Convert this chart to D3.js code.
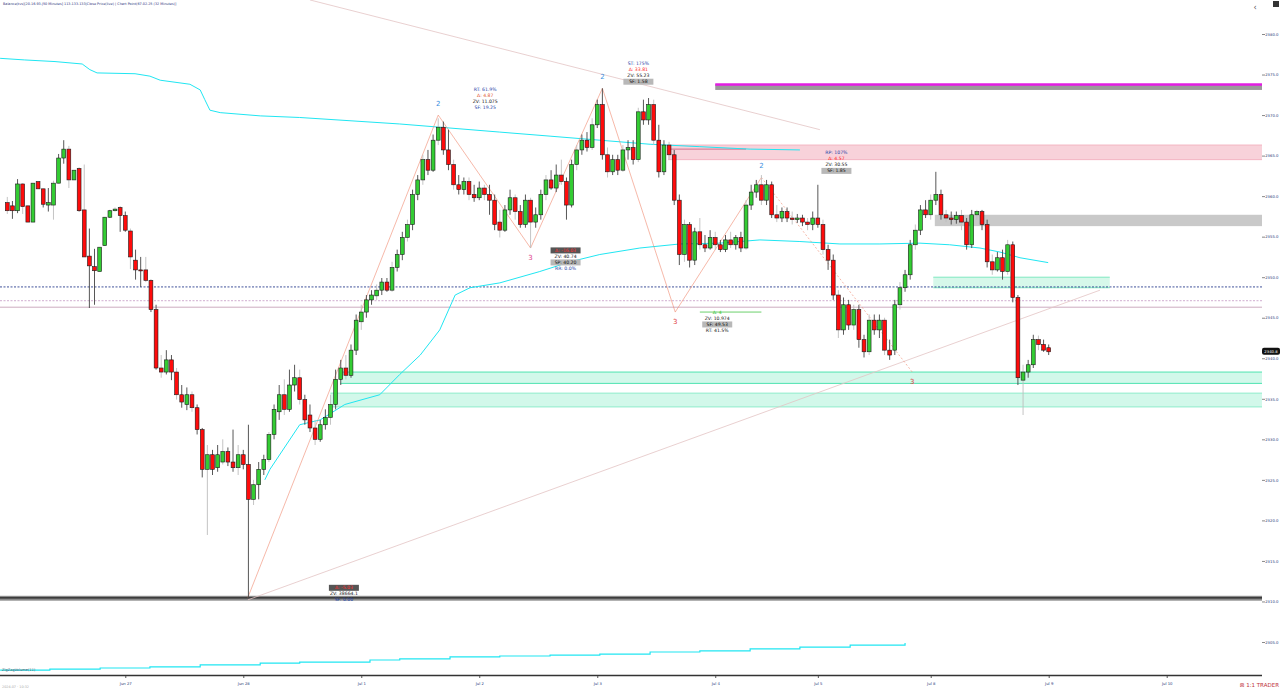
<!DOCTYPE html>
<html><head><meta charset="utf-8">
<script src="https://cdn.jsdelivr.net/npm/d3@7"></script>
<style>html,body{margin:0;padding:0;background:#fff;overflow:hidden}svg{display:block;font-family:"DejaVu Sans",sans-serif}</style>
</head><body><svg id="c" width="1280" height="689"></svg>
<script>
// ---------- DATA ----------
const open=[2359.2,2358.8,2358.2,2361.5,2358.8,2356.8,2361.8,2360.9,2358.9,2358.9,
2361.6,2364.7,2365.8,2362.0,2363.4,2358.3,2352.6,2351.3,2350.7,2353.9,
2357.4,2358.2,2358.6,2357.6,2355.7,2352.1,2350.9,2350.9,2349.6,2346.0,
2338.8,2338.3,2339.8,2338.3,2335.5,2334.3,2335.5,2333.9,2331.2,2326.3,
2328.1,2326.5,2327.2,2328.5,2327.2,2326.5,2328.1,2326.9,2322.6,2324.4,
2326.3,2327.5,2330.6,2333.4,2335.5,2333.7,2336.7,2337.6,2334.9,2333.0,
2331.4,2330.0,2331.8,2332.7,2334.3,2337.4,2338.8,2337.9,2341.0,2344.5,
2345.7,2347.2,2347.7,2348.4,2349.4,2348.4,2351.2,2352.8,2354.9,2356.5,
2360.2,2362.0,2364.5,2363.2,2366.9,2368.5,2365.7,2363.9,2361.4,2360.8,
2361.8,2360.2,2359.8,2361.0,2360.2,2359.5,2356.8,2355.8,2358.3,2359.8,
2358.1,2356.5,2359.5,2356.8,2357.7,2360.2,2362.0,2361.0,2362.6,2361.8,
2358.9,2363.9,2365.7,2366.9,2366.0,2368.8,2371.3,2365.1,2363.0,2364.5,
2363.2,2365.7,2366.0,2364.5,2370.4,2369.4,2371.3,2366.9,2363.0,2366.3,
2365.1,2359.5,2352.8,2356.5,2352.1,2355.6,2354.0,2353.6,2354.9,2354.0,
2353.4,2354.6,2354.0,2354.9,2353.6,2358.9,2360.5,2361.4,2359.5,2361.4,
2357.7,2357.3,2358.1,2357.3,2357.1,2357.3,2356.8,2356.5,2357.3,2356.5,
2353.4,2352.1,2347.8,2343.5,2346.6,2344.1,2346.0,2342.3,2340.8,2344.7,
2343.5,2344.7,2341.0,2341.0,2346.6,2348.7,2350.3,2354.0,2355.8,2358.3,
2357.7,2359.5,2360.2,2357.7,2357.3,2357.1,2357.6,2356.8,2354.0,2357.7,
2358.1,2356.5,2351.9,2350.9,2352.4,2350.7,2354.0,2347.5,2337.3,2338.3,
2339.2,2342.3,2341.7,2341.3];
const high=[2359.9,2359.4,2362.1,2361.6,2358.8,2361.6,2361.8,2360.9,2361.0,2361.9,
2365.2,2366.9,2366.2,2363.2,2363.5,2363.9,2356.0,2353.5,2353.7,2357.4,
2358.3,2358.6,2358.7,2358.1,2356.0,2353.4,2352.5,2352.5,2349.7,2346.6,
2340.4,2341.0,2340.4,2338.8,2336.7,2336.4,2335.9,2334.3,2331.4,2329.3,
2328.7,2329.3,2330.0,2329.0,2331.2,2329.3,2328.7,2331.8,2325.0,2327.2,
2328.1,2330.9,2334.3,2336.7,2337.4,2338.6,2339.2,2338.6,2335.5,2334.3,
2332.4,2332.4,2333.7,2335.5,2338.6,2339.8,2340.4,2341.7,2345.4,2346.6,
2347.8,2348.4,2349.1,2349.9,2349.9,2351.9,2353.4,2355.6,2357.1,2360.8,
2362.6,2365.1,2365.7,2367.6,2369.6,2369.2,2368.2,2364.5,2362.6,2362.3,
2362.3,2361.4,2361.8,2361.4,2361.4,2360.2,2358.3,2358.9,2360.8,2360.2,
2358.9,2360.2,2359.8,2358.6,2360.8,2362.6,2363.2,2363.9,2364.5,2362.3,
2364.5,2366.3,2367.6,2367.9,2369.6,2371.9,2373.3,2366.0,2365.1,2365.1,
2366.3,2366.9,2366.9,2370.9,2371.9,2372.1,2371.9,2368.8,2366.9,2366.7,
2365.7,2360.2,2357.1,2356.8,2356.1,2357.3,2355.2,2355.8,2355.6,2354.6,
2355.2,2355.6,2355.2,2355.6,2359.5,2361.4,2362.0,2362.6,2362.0,2361.8,
2358.9,2358.6,2358.6,2358.1,2357.8,2357.7,2357.3,2358.1,2361.4,2357.1,
2354.0,2352.8,2348.4,2347.5,2347.2,2346.6,2346.6,2342.9,2345.4,2345.4,
2345.4,2345.0,2342.3,2347.2,2349.4,2350.9,2354.6,2356.5,2358.9,2359.5,
2360.2,2363.0,2360.8,2358.3,2358.1,2358.1,2358.3,2357.3,2358.3,2358.3,
2358.3,2357.1,2352.8,2353.1,2353.4,2354.6,2354.4,2347.8,2339.2,2339.8,
2342.9,2342.8,2342.3,2341.7];
const low=[2357.8,2357.2,2357.9,2357.8,2356.8,2356.8,2360.9,2358.6,2358.1,2357.1,
2361.6,2364.0,2361.0,2362.0,2358.1,2352.5,2346.2,2346.6,2350.7,2353.9,
2357.3,2358.1,2355.6,2355.6,2351.0,2349.7,2348.8,2349.4,2345.7,2338.6,
2337.6,2338.0,2337.3,2334.9,2333.9,2333.6,2333.4,2330.6,2325.3,2318.2,
2325.6,2326.0,2326.9,2326.7,2326.0,2325.6,2326.3,2310.5,2321.9,2322.6,
2325.6,2327.2,2330.0,2332.4,2333.0,2333.4,2335.9,2334.3,2331.8,2330.9,
2329.3,2329.7,2331.2,2331.8,2333.7,2336.7,2337.4,2337.6,2340.4,2343.5,
2345.0,2346.6,2347.2,2347.8,2348.2,2348.2,2350.7,2352.1,2354.4,2355.8,
2359.5,2361.4,2362.6,2363.0,2366.3,2365.1,2363.2,2360.8,2360.2,2360.2,
2359.5,2359.3,2359.5,2359.5,2357.7,2355.8,2354.9,2355.6,2357.7,2357.1,
2356.1,2356.1,2353.6,2356.1,2357.1,2359.5,2360.8,2360.5,2361.4,2357.1,
2358.6,2363.2,2365.1,2365.5,2365.7,2368.4,2364.5,2362.3,2362.6,2362.6,
2363.0,2364.5,2363.9,2364.2,2368.8,2368.8,2366.3,2362.3,2362.6,2364.5,
2358.9,2351.5,2351.9,2351.2,2351.5,2353.4,2353.1,2353.4,2353.4,2353.1,
2353.1,2353.6,2353.4,2353.1,2353.4,2358.3,2359.8,2358.9,2358.9,2357.3,
2356.8,2356.8,2356.8,2356.5,2356.7,2356.3,2355.8,2355.8,2356.1,2352.8,
2350.9,2347.2,2342.5,2342.9,2343.5,2343.5,2341.3,2340.1,2340.4,2342.9,
2342.5,2340.4,2339.8,2340.4,2346.0,2348.2,2349.7,2353.4,2355.2,2357.3,
2357.1,2358.9,2357.1,2356.8,2356.5,2356.6,2355.8,2353.4,2353.6,2357.1,
2355.8,2351.2,2350.3,2350.7,2349.7,2350.3,2346.9,2336.7,2333.0,2337.6,
2338.8,2341.0,2340.8,2340.4];
const close=[2358.2,2358.2,2361.5,2358.7,2356.8,2361.6,2360.9,2359.0,2359.2,2361.6,
2364.7,2365.8,2362.0,2363.2,2358.2,2352.5,2351.4,2350.8,2353.7,2357.4,
2358.2,2358.4,2357.6,2355.8,2352.5,2350.9,2350.8,2349.6,2346.0,2338.8,
2338.3,2339.8,2338.3,2335.5,2334.6,2335.5,2333.9,2331.2,2326.3,2328.1,
2326.3,2328.1,2328.5,2327.2,2326.5,2328.1,2326.9,2322.6,2324.4,2326.3,
2327.5,2330.6,2333.7,2335.5,2333.7,2336.7,2337.6,2334.9,2332.4,2331.4,
2330.0,2331.8,2332.7,2334.3,2337.4,2338.8,2337.9,2341.0,2344.7,2345.7,
2347.2,2347.8,2348.4,2349.4,2348.4,2351.2,2352.8,2354.9,2356.5,2360.2,
2362.0,2364.5,2363.2,2366.9,2368.5,2365.7,2363.9,2361.4,2360.8,2361.8,
2360.2,2359.8,2361.0,2360.2,2359.5,2356.5,2355.8,2358.3,2359.8,2358.1,
2356.5,2359.5,2356.8,2357.7,2360.2,2362.0,2361.0,2362.6,2361.8,2358.9,
2363.9,2365.7,2366.9,2366.0,2368.8,2371.3,2365.1,2363.0,2364.5,2363.2,
2365.7,2366.0,2364.5,2370.4,2369.4,2371.3,2366.9,2363.0,2366.3,2365.1,
2359.5,2352.8,2356.5,2352.1,2355.6,2354.0,2353.6,2354.9,2354.0,2353.4,
2354.6,2354.0,2354.9,2353.6,2358.9,2360.5,2361.4,2359.5,2361.4,2357.7,
2357.3,2358.1,2357.3,2357.1,2357.3,2356.8,2356.5,2357.3,2356.5,2353.4,
2352.1,2347.8,2343.5,2346.6,2344.1,2346.0,2342.3,2340.8,2344.7,2343.5,
2344.7,2341.0,2340.4,2346.6,2348.7,2350.3,2354.0,2355.8,2358.3,2357.7,
2359.5,2360.2,2357.7,2357.3,2357.1,2357.6,2356.8,2354.0,2357.7,2358.1,
2356.5,2351.9,2350.9,2352.4,2350.7,2354.0,2347.5,2337.6,2338.3,2339.2,
2342.3,2341.7,2341.0,2340.8];

const priceTicks=[2380,2375,2370,2365,2360,2355,2350,2345,2340,2335,2330,2325,2320,2315,2310,2305];
const dateTickIdx=[23,46,69,92,115,138,158,180,203,226];
const dateLabels=["Jun 27","Jun 28","Jul 1","Jul 2","Jul 3","Jul 4","Jul 5","Jul 8","Jul 9","Jul 10"];

// slow moving average (upper cyan), read at sampled candle positions
const maSlowIdx=[-1.4,3.4,9.3,14.6,16.1,17.5,24.9,27.8,29.8,35.6,37.6,38.5,39.5,41.5,49.3,57.0,66.8,76.5,86.3,96.0,105.8,115.5,125.3,135.0,144.8,154.5];
const maSlowVal=[2377.0,2376.8,2376.6,2376.3,2375.6,2375.2,2375.1,2374.8,2374.3,2373.8,2373.1,2371.9,2370.6,2370.3,2369.9,2369.7,2369.3,2368.9,2368.4,2367.9,2367.4,2366.9,2366.4,2366.1,2365.8,2365.7];
// faster moving average (lower cyan)
const maFastIdx=[50.2,51.2,57.0,61.0,65.8,72.6,76.5,80.5,84.3,87.3,90.2,96.0,103.8,109.7,115.5,123.3,131.1,138.9,146.7,154.5,162.3,170.1,177.9,183.7,189.6,193.5,197.4,202.9];
const maFastVal=[2325.0,2326.3,2331.8,2332.4,2334.3,2335.5,2338.0,2340.4,2343.5,2347.8,2348.7,2349.3,2350.7,2351.9,2352.8,2353.6,2354.1,2354.2,2354.6,2354.4,2354.1,2354.1,2354.2,2354.0,2353.6,2353.1,2352.4,2351.8];
// lower-panel indicator
const indIdx=[-1.4,8.3,18.1,27.8,37.6,49.3,57.0,70.7,76.5,86.3,96.0,105.8,115.5,125.3,135.0,144.8,154.5,164.3,175.0];
const indVal=[6,9,12.5,16,22,28,31,37.5,41,47,50,53,56,62.5,66,72,78,84,91];

// zigzag swing points
const zzIdx=[46.9,84,102,116,130.2,147,176.4];
const zzVal=[2310.5,2370.0,2353.6,2373.3,2345.7,2362.3,2338.3];
const zzLabels=["","2","3","2","3","2","3"];

// trend lines
const trendA=[[59,2384.2],[158.4,2368.2]];
const trendB=[[46.9,2310.2],[213,2348.4]];

// levels
const levelNavy=2348.8, levelPinkDash=2347.1, levelPinkSolid=2346.3, levelBottom=2310.45;
// zones [startIdx, endIdx(null=right edge), top, bottom]
const zoneMagenta=[138,null,2373.8,2373.1];
const zonePink=[128.8,null,2366.3,2364.5];
const zoneGray=[180.8,null,2357.7,2356.3];
const zoneMint=[180.5,214.9,2350.0,2348.7];
const zoneGreen1=[64.9,null,2338.3,2336.9];
const zoneGreen2=[63,null,2335.7,2334.0];
const zoneBottom=[-2,null,2310.7,2310.1];

const annotations=[
 {zz:1,dx:47,dy:-24,lines:[["RT: 61.9%","#1f3fa8"],["Δ: 4.87","#e0502c"],["ZV: 11.075","#111"],["SF: 19.25","#1f3fa8"]]},
 {zz:2,dx:35,dy:4,lines:[["Δ: -16.03","#ff3030","#555"],["ZV: 40.74","#111"],["SP: 40.20","#111","#b8b8b8"],["RR: 0.0%","#1f3fa8"]]},
 {zz:3,dx:36,dy:-23,lines:[["ST: 175%","#1f3fa8"],["Δ: 33.81","#ff2020"],["ZV: 55.23","#111"],["SF: 1.58","#111","#b8b8b8"]]},
 {zz:4,dx:42,dy:2,lines:[["Δ: 4","#30c030"],["ZV: 10.974","#111"],["SF: 49.53","#111","#b8b8b8"],["RT: 41.5%","#111"]]},
 {zz:5,dx:75,dy:-23,lines:[["RP: 107%","#1f3fa8"],["Δ: 4.57","#ff2020"],["ZV: 30.55","#111"],["SF: 1.85","#111","#b8b8b8"]]},
 {zz:0,dx:96,dy:-8,lines:[["Δ: -5.03","#ff3030","#555"],["ZV: 38664.1","#111"],["SF: 0.00","#1f3fa8"]]}
];

// ---------- DRAW ----------
const W=1280,H=689,plotR=1262;
const svg=d3.select("#c");
svg.append("rect").attr("width",W).attr("height",H).attr("fill","#fff");
const y=d3.scaleLinear().domain([2305,2380]).range([642,34]);
const x=d3.scaleLinear().domain([0,203]).range([7.3,1048.7]);
const yInd=d3.scaleLinear().domain([0,100]).range([672,640]);

const g=svg.append("g");
function zone(z,fill,stroke){
  const x0=Math.max(0,x(z[0])), x1=z[1]==null?plotR:x(z[1]);
  g.append("rect").attr("x",x0).attr("y",y(z[2])).attr("width",x1-x0).attr("height",y(z[3])-y(z[2])).attr("fill",fill);
  if(stroke){
    g.append("line").attr("x1",x0).attr("x2",x1).attr("y1",y(z[2])).attr("y2",y(z[2])).attr("stroke",stroke).attr("stroke-width",1);
    g.append("line").attr("x1",x0).attr("x2",x1).attr("y1",y(z[3])).attr("y2",y(z[3])).attr("stroke",stroke).attr("stroke-width",1);
  }
}
zone(zonePink,"#f8d2da","#f3b4c2");
zone(zoneGray,"#c9c9c9");
zone(zoneMint,"#d6f8ea","#7ee8c0");
zone(zoneGreen1,"#d2f8ea","#4fe3b0");
zone(zoneGreen2,"#d2f8ea","#8eeccb");
{
  const x0=x(zoneMagenta[0]);
  g.append("rect").attr("x",x0).attr("y",y(zoneMagenta[2])).attr("width",plotR-x0).attr("height",y(zoneMagenta[3])-y(zoneMagenta[2])).attr("fill","#9a9a9a");
  g.append("rect").attr("x",x0).attr("y",y(zoneMagenta[2])-1).attr("width",plotR-x0).attr("height",2.5).attr("fill","#e21de2");
}
{
  g.append("rect").attr("x",0).attr("y",y(zoneBottom[2])).attr("width",plotR).attr("height",y(zoneBottom[3])-y(zoneBottom[2])).attr("fill","#8a8a8a");
  g.append("line").attr("x1",0).attr("x2",plotR).attr("y1",y(levelBottom)).attr("y2",y(levelBottom)).attr("stroke","#222").attr("stroke-width",1.2);
}
g.append("line").attr("x1",x(128.8)).attr("x2",x(144)).attr("y1",y(2365.8)).attr("y2",y(2365.8)).attr("stroke","#c8557a").attr("stroke-width",0.8);

g.append("line").attr("x1",0).attr("x2",plotR).attr("y1",y(levelNavy)).attr("y2",y(levelNavy)).attr("stroke","#2b3f8f").attr("stroke-width",0.9).attr("stroke-dasharray","2,1.5");
g.append("line").attr("x1",0).attr("x2",plotR).attr("y1",y(levelPinkDash)).attr("y2",y(levelPinkDash)).attr("stroke","#c9a3c9").attr("stroke-width",0.9).attr("stroke-dasharray","2,1.5");
g.append("line").attr("x1",0).attr("x2",plotR).attr("y1",y(levelPinkSolid)).attr("y2",y(levelPinkSolid)).attr("stroke","#c7a2b8").attr("stroke-width",0.9);

[trendA,trendB].forEach(t=>{
  g.append("line").attr("x1",x(t[0][0])).attr("y1",y(t[0][1])).attr("x2",x(t[1][0])).attr("y2",y(t[1][1]))
   .attr("stroke","#e3c4c4").attr("stroke-width",0.8);
});

const lineGen=(xs,vs,ys)=>d3.line().x((d,i)=>x(xs[i])).y((d,i)=>ys(vs[i]))(vs);
g.append("path").attr("d",lineGen(maSlowIdx,maSlowVal,y)).attr("fill","none").attr("stroke","#20e6f2").attr("stroke-width",1);
g.append("path").attr("d",lineGen(maFastIdx,maFastVal,y)).attr("fill","none").attr("stroke","#20e6f2").attr("stroke-width",1);
g.append("path").attr("d",d3.line().curve(d3.curveStepAfter).x((d,i)=>x(indIdx[i])).y((d,i)=>yInd(indVal[i]))(indVal))
  .attr("fill","none").attr("stroke","#20e6f2").attr("stroke-width",1.2);

const zzPts=zzIdx.map((d,i)=>[x(d),y(zzVal[i])]);
for(let i=0;i<zzPts.length-1;i++){
  g.append("line").attr("x1",zzPts[i][0]).attr("y1",zzPts[i][1]).attr("x2",zzPts[i+1][0]).attr("y2",zzPts[i+1][1])
   .attr("stroke","#f08a70").attr("stroke-width",0.7).attr("stroke-dasharray",i===zzPts.length-2?"2,2":null).attr("opacity",0.85);
}
g.append("line").attr("x1",x(135)).attr("x2",x(147)).attr("y1",y(zzVal[4])).attr("y2",y(zzVal[4])).attr("stroke","#5ccc5c").attr("stroke-width",0.9);

const n=open.length, bw=3.8;
const cg=svg.append("g");
for(let i=0;i<n;i++){
  const up=close[i]>=open[i], cx=x(i);
  cg.append("line").attr("x1",cx).attr("x2",cx).attr("y1",y(high[i])).attr("y2",y(low[i])).attr("stroke",i%3===0?"#bdbdbd":"#444").attr("stroke-width",0.9);
  const top=y(Math.max(open[i],close[i])), bot=y(Math.min(open[i],close[i]));
  cg.append("rect").attr("x",cx-bw/2).attr("y",top).attr("width",bw).attr("height",Math.max(1,bot-top))
    .attr("fill",up?"#33cc33":"#ff0b0b").attr("stroke","#1b1b1b").attr("stroke-width",0.6);
}

zzLabels.forEach((t,i)=>{ if(!t) return;
  const isTwo=t==="2";
  svg.append("text").attr("x",zzPts[i][0]).attr("y",isTwo?zzPts[i][1]-9:zzPts[i][1]+12).attr("text-anchor","middle")
   .attr("font-size",7).attr("fill",isTwo?"#3a8ee0":(i===2?"#e0408a":"#e04040")).text(t);
});

annotations.forEach(a=>{
  const cx=zzPts[a.zz][0]+a.dx, cy=zzPts[a.zz][1]+a.dy;
  a.lines.forEach((l,k)=>{
    const ty=cy+k*6;
    if(l[2]) svg.append("rect").attr("x",cx-15).attr("y",ty-4.6).attr("width",30).attr("height",6).attr("fill",l[2]);
    svg.append("text").attr("x",cx).attr("y",ty).attr("text-anchor","middle").attr("font-size",4.6).attr("fill",l[1]).text(l[0]);
  });
});

// right axis
const ax=svg.append("g").attr("transform",`translate(${plotR},0)`)
  .call(d3.axisRight(y).tickValues(priceTicks).tickSize(3).tickPadding(3).tickFormat(d3.format(".1f")));
ax.select(".domain").remove();
ax.selectAll("line").attr("stroke","#888");
ax.selectAll("text").attr("font-size",3.8).attr("fill","#2a3a7a").attr("font-family","DejaVu Sans")
  .attr("text-anchor","end").attr("x",16.5);

// current price label
{
  const yp=y(close[n-1]);
  svg.append("rect").attr("x",plotR).attr("y",yp-4).attr("width",18).attr("height",7).attr("rx",2).attr("fill","#111");
  svg.append("text").attr("x",plotR+9).attr("y",yp+1.3).attr("text-anchor","middle").attr("font-size",3.8).attr("fill","#fff").text(d3.format(".1f")(close[n-1]));
}

// bottom axis
svg.append("line").attr("x1",0).attr("x2",plotR).attr("y1",675.5).attr("y2",675.5).attr("stroke","#333").attr("stroke-width",1.5);
const bx=svg.append("g").attr("transform","translate(0,676)")
  .call(d3.axisBottom(x).tickValues(dateTickIdx).tickSize(2).tickPadding(4).tickFormat((d,i)=>dateLabels[i]));
bx.select(".domain").remove();
bx.selectAll("line").attr("stroke","#555");
bx.selectAll("text").attr("font-size",3.8).attr("fill","#2a3a7a").attr("font-family","DejaVu Sans");

// header & misc text
svg.append("text").attr("x",3).attr("y",5).attr("font-size",3.4).attr("fill","#1f2f7a")
  .text("Balance(tvs)[20.16.93.|50 Minutes] 113.133.133|Close Price(live) | Chart Point(67.02.25 (32 Minutes)]");
svg.append("text").attr("x",2).attr("y",671).attr("font-size",3.6).attr("fill","#556")
  .text("ZigZagVolume(11)");
svg.append("text").attr("x",2).attr("y",688).attr("font-size",3.4).attr("fill","#aaa").text("2024.07 · 10:32");
svg.append("text").attr("x",1279).attr("y",687).attr("text-anchor","end").attr("font-size",5.5).attr("fill","#c0343c").text("⊠ 1:1 TRADER");
svg.append("text").attr("x",1255).attr("y",10).attr("text-anchor","middle").attr("font-size",8).attr("fill","#555").text("‹");
svg.append("rect").attr("x",1273).attr("y",1).attr("width",6).attr("height",6).attr("fill","#333");
</script></body></html>
